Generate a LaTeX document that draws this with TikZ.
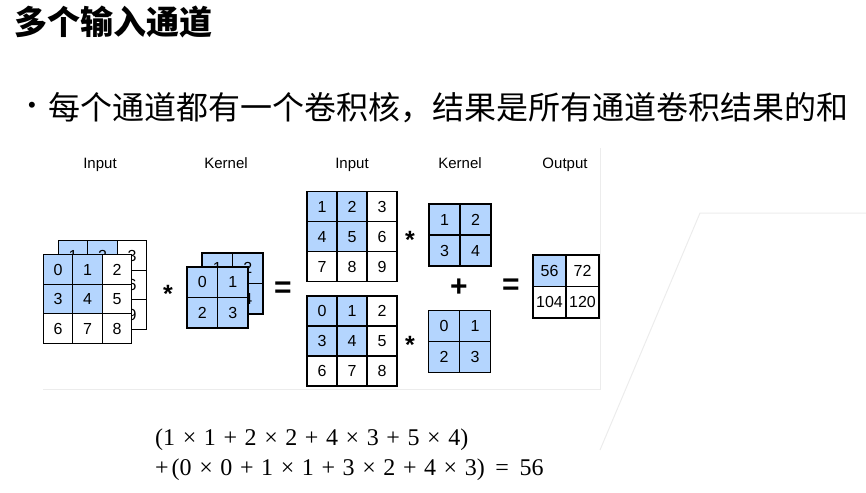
\documentclass[tikz,border=0pt]{standalone}
\usepackage{fontspec}
\setmainfont{Liberation Sans}
\newfontfamily\cjk{Noto Sans CJK SC}
\newfontfamily\formulafont{Liberation Serif}
\usetikzlibrary{matrix}
\definecolor{cellblue}{RGB}{180,213,254}
\definecolor{framegray}{RGB}{236,236,236}
\newcommand\formulastyle{\fontsize{24}{24}\formulafont\spaceskip=7.6pt\relax}
\tikzstyle{cell} = [draw, line width=1.2pt, fill=white, inner sep=0pt, minimum size=29.5pt, font=\fontsize{16}{16}\selectfont]
\tikzstyle{hot} = [fill=cellblue]
\tikzstyle{grid} = [matrix of nodes, inner sep=0pt, column sep=-1.2pt, row sep=-1.2pt]
\tikzstyle{label} = [anchor=base, font=\fontsize{15}{15}\selectfont]
\tikzstyle{op} = [font=\fontsize{25}{25}\selectfont\bfseries]
\tikzstyle{bigop} = [font=\fontsize{30}{30}\selectfont\bfseries]
\tikzstyle{formula} = [anchor=base west, inner sep=0pt, font=\formulastyle]
\tikzstyle{frame} = [draw=framegray, line width=1pt]

\begin{document}
\begin{tikzpicture}[x=1pt, y=-1pt]
	\useasboundingbox (0,0) rectangle (866,492);
	
	\node [anchor=base west, inner sep=0pt, font=\fontsize{33}{33}\cjk\bfseries] (title) at (14,35) {多个输入通道};
	\node [inner sep=0pt, font=\fontsize{22}{22}\selectfont] (dot) at (32,107) {•};
	\node [anchor=base west, inner sep=0pt, font=\fontsize{32}{32}\cjk] (point) at (48,120) {每个通道都有一个卷积核，结果是所有通道卷积结果的和};
	
	\node [label] (lin1) at (100,168) {Input};
	\node [label] (lk1) at (226,168) {Kernel};
	\node [label] (lin2) at (352,168) {Input};
	\node [label] (lk2) at (460,168) {Kernel};
	\node [label] (lout) at (565,168) {Output};
	
	% stacked channels
	\matrix (inback) [grid, nodes={cell}] at (102.5,285) {
		|[hot]| 1 & |[hot]| 2 & 3 \\
		|[hot]| 4 & |[hot]| 5 & 6 \\
		7 & 8 & 9 \\
	};
	\matrix (infront) [grid, nodes={cell}] at (87.5,299) {
		|[hot]| 0 & |[hot]| 1 & 2 \\
		|[hot]| 3 & |[hot]| 4 & 5 \\
		6 & 7 & 8 \\
	};
	\matrix (kback) [grid, nodes={cell, hot, minimum size=30.5pt}] at (232.5,283.5) {
		1 & 2 \\
		3 & 4 \\
	};
	\matrix (kfront) [grid, nodes={cell, hot, minimum size=30.5pt}] at (217.5,297.5) {
		0 & 1 \\
		2 & 3 \\
	};
	\node [op] (star1) at (168,294) {*};
	\node [bigop] (eq1) at (283,290) {=};
	
	% per channel
	\matrix (in1) [grid, nodes={cell, minimum size=30pt}] at (352,236.5) {
		|[hot]| 1 & |[hot]| 2 & 3 \\
		|[hot]| 4 & |[hot]| 5 & 6 \\
		7 & 8 & 9 \\
	};
	\matrix (in2) [grid, nodes={cell, minimum size=30pt}] at (352,341) {
		|[hot]| 0 & |[hot]| 1 & 2 \\
		|[hot]| 3 & |[hot]| 4 & 5 \\
		6 & 7 & 8 \\
	};
	\matrix (k1) [grid, nodes={cell, hot, minimum size=31pt}] at (460,235) {
		1 & 2 \\
		3 & 4 \\
	};
	\matrix (k2) [grid, nodes={cell, hot, minimum size=31pt}] at (459.5,341.5) {
		0 & 1 \\
		2 & 3 \\
	};
	\node [op] (star2) at (410,240) {*};
	\node [op] (star3) at (410,345) {*};
	\node [bigop] (plus) at (459,288) {+};
	\node [bigop] (eq2) at (511,287) {=};
	
	\matrix (out) [grid, nodes={cell, minimum width=33pt, minimum height=31.5pt}] at (566,286.5) {
		|[hot]| 56 & 72 \\
		104 & 120 \\
	};
	
	\draw [frame] (43,389) -- (600,389) -- (600,148);
	\draw [frame] (600,450) -- (700,213) -- (866,213);
	
	\node [formula] (sum1) at (155,445) {(1 × 1 + 2 × 2 + 4 × 3 + 5 × 4)};
	\node [formula] (sum2) at (155,475) {+\hspace{3pt}(0 × 0 + 1 × 1 + 3 × 2 + 4 × 3) \hspace{3pt}=\hspace{3pt} 56};
\end{tikzpicture}
\end{document}
